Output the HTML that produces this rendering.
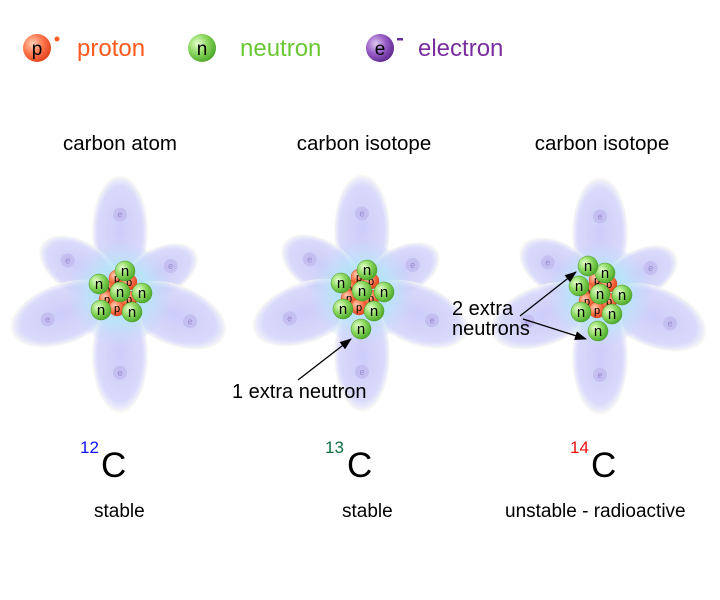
<!DOCTYPE html>
<html><head><meta charset="utf-8">
<style>
body{margin:0;background:#fff;width:720px;height:600px;overflow:hidden}
svg{display:block;font-family:"Liberation Sans",Arial,sans-serif}
</style></head>
<body>
<svg id="s" width="720" height="600" viewBox="0 0 720 600">
<defs>
<radialGradient id="gp" cx="0.35" cy="0.35" r="0.7"><stop offset="0" stop-color="#ffd0b8"/><stop offset="0.5" stop-color="#ff7a50"/><stop offset="1" stop-color="#e0401a"/></radialGradient>
<radialGradient id="gn" cx="0.35" cy="0.35" r="0.7"><stop offset="0" stop-color="#e8ffd0"/><stop offset="0.5" stop-color="#8cd860"/><stop offset="1" stop-color="#4aa828"/></radialGradient>
<radialGradient id="ge" cx="0.35" cy="0.35" r="0.7"><stop offset="0" stop-color="#e0c8f0"/><stop offset="0.5" stop-color="#9a5ec8"/><stop offset="1" stop-color="#602890"/></radialGradient>
<radialGradient id="gpet" cx="0.5" cy="0.5" r="0.5"><stop offset="0" stop-color="#c0c0f8"/><stop offset="0.8" stop-color="#d0d0fa"/><stop offset="0.93" stop-color="#e8e8fa"/><stop offset="1" stop-color="#fbfbee"/></radialGradient>
<radialGradient id="gglow" cx="0.5" cy="0.5" r="0.5"><stop offset="0" stop-color="#8fe4f8"/><stop offset="0.6" stop-color="#b4e6f8"/><stop offset="1" stop-color="#c8d8fa" stop-opacity="0.3"/></radialGradient>
<marker id="ah" markerWidth="12" markerHeight="9" refX="11" refY="4.5" orient="auto" markerUnits="userSpaceOnUse"><path d="M0,0 L12,4.5 L0,9 Z" fill="#000"/></marker>
</defs>

<g>
<g>
<circle cx="37" cy="48" r="14" fill="url(#gp)"/><text x="37" y="55" font-size="19" text-anchor="middle">p</text>
<circle cx="57" cy="39" r="2.5" fill="#ff5a20"/>
<text x="77" y="56" font-size="24" fill="#ff5a1e">proton</text></g>
<g>
<circle cx="202" cy="48" r="14" fill="url(#gn)"/><text x="202" y="55" font-size="19" text-anchor="middle">n</text>
<text x="240" y="56" font-size="24" fill="#6ac834">neutron</text></g>
<g>
<circle cx="380" cy="48" r="14" fill="url(#ge)"/><text x="380" y="55" font-size="19" text-anchor="middle">e</text>
<rect x="397" y="38" width="6" height="2.5" fill="#6a2a98"/>
<text x="418" y="56" font-size="24" fill="#7a2e9e">electron</text></g>
</g>

<g id="atoms"></g>

<g font-size="20.5" text-anchor="middle">
<text x="120" y="150">carbon atom</text>
<text x="364" y="150">carbon isotope</text>
<text x="602" y="150">carbon isotope</text>
</g>

<g>
<text x="80" y="453" font-size="17" fill="#1010ff">12</text>
<text x="101" y="477" font-size="35">C</text>
<text x="325" y="453" font-size="17" fill="#107040">13</text>
<text x="347" y="477" font-size="35">C</text>
<text x="570" y="453" font-size="17" fill="#ee1010">14</text>
<text x="591" y="477" font-size="35">C</text>
</g>
<g font-size="19">
<text x="94" y="517">stable</text>
<text x="342" y="517">stable</text>
<text x="505" y="517">unstable - radioactive</text>
</g>

<g font-size="20">
<line x1="298" y1="380" x2="351" y2="339" stroke="#000" stroke-width="1.3" marker-end="url(#ah)"/>
<text x="232" y="398">1 extra neutron</text>
<line x1="520" y1="316" x2="576" y2="272" stroke="#000" stroke-width="1.3" marker-end="url(#ah)"/>
<line x1="523" y1="319" x2="586" y2="339" stroke="#000" stroke-width="1.3" marker-end="url(#ah)"/>
<text x="452" y="315">2 extra</text>
<text x="452" y="335">neutrons</text>
</g>
</svg>
<script>
const atomCenters = [[120,293],[362,292],[600,295]];
const baseProtons = [[-3,-15],[9,-11],[-13,-4],[-13,6],[-3,15],[9,6]];
const baseNeutrons = [[5,-22],[-21,-9],[22,0],[-19,17],[12,19],[0,-1]];
const extraNeutrons = [[], [[-1,37]], [[-12,-29],[-2,36]]];
const petals = [[-90,112,28],[-148,88,26],[-28,82,24],[160,110,30],[22,108,30],[90,114,28]];
const NS='http://www.w3.org/2000/svg';
const root=document.getElementById('atoms');
function mk(t,a,p){const e=document.createElementNS(NS,t);for(const k in a)e.setAttribute(k,a[k]);p.appendChild(e);return e;}
function ball(g,x,y,type,r){
  mk('circle',{cx:x,cy:y,r:r,fill:type==='p'?'url(#gp)':'url(#gn)',stroke:type==='p'?'#d04a20':'#4a9a28','stroke-width':0.5},g);
  const t=mk('text',{x:x,y:y+(type==='p'?4:5),'font-size':type==='p'?11:15,'text-anchor':'middle',fill:'#000'},g);
  t.textContent=type;
}
atomCenters.forEach((c,i)=>{
  const g=mk('g',{},root);
  
  
  const [cx,cy]=c;
  petals.forEach(p=>{
    const [ang,len,w]=p;const a=ang*Math.PI/180;
    const mx=cx+Math.cos(a)*len*0.55, my=cy+Math.sin(a)*len*0.55;
    mk('ellipse',{cx:mx,cy:my,rx:len*0.5,ry:w,fill:'url(#gpet)',opacity:0.8,transform:`rotate(${ang} ${mx} ${my})`},g);
    const ex=cx+Math.cos(a)*len*0.7, ey=cy+Math.sin(a)*len*0.7;
    mk('circle',{cx:ex,cy:ey,r:7,fill:'#b8ace8',opacity:0.5},g);
    const t=mk('text',{x:ex,y:ey+3,'font-size':9,'text-anchor':'middle',fill:'#9a8ad0'},g);t.textContent='e';
  });
  mk('circle',{cx:cx,cy:cy,r:50,fill:'url(#gglow)',opacity:0.75},g);
  const nuc=mk('g',{},g);
  
  
  baseProtons.forEach(o=>ball(nuc,cx+o[0],cy+o[1],'p',8));
  baseNeutrons.concat(extraNeutrons[i]).forEach(o=>ball(nuc,cx+o[0],cy+o[1],'n',10));
});
</script>
</body></html>
